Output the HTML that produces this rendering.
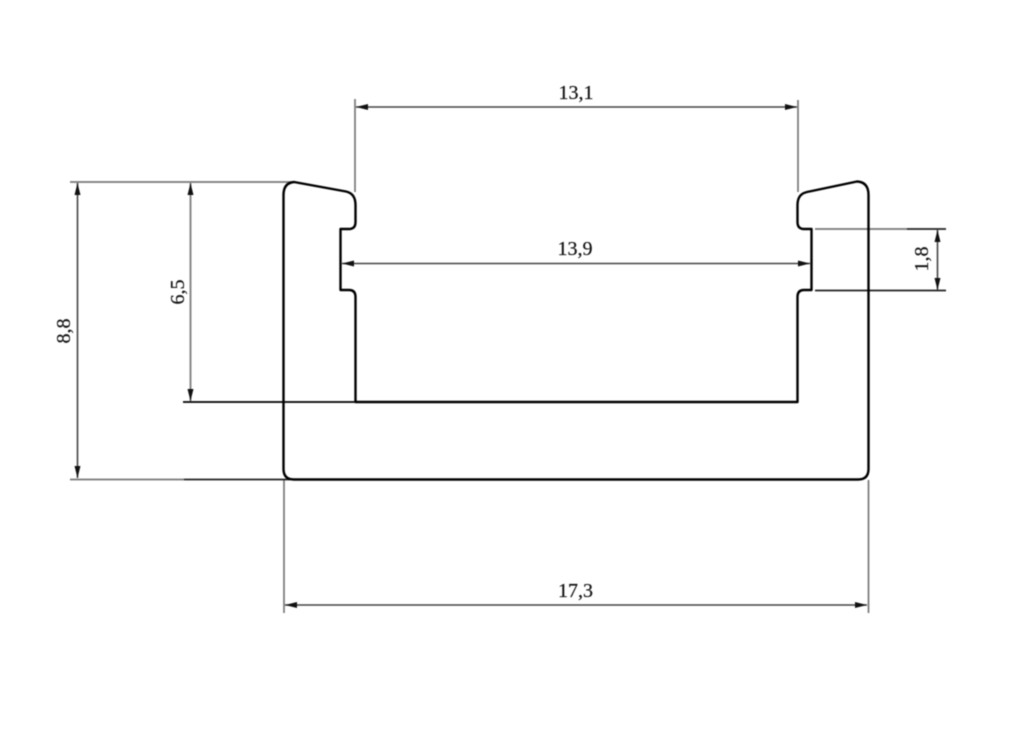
<!DOCTYPE html>
<html>
<head>
<meta charset="utf-8">
<style>
html,body{margin:0;padding:0;background:#fff;width:1024px;height:750px;overflow:hidden}
svg{display:block;filter:blur(0.45px)}
text{font-family:"Liberation Serif",serif;font-size:20px;fill:#111;stroke:#111;stroke-width:0.2px;text-anchor:middle}
</style>
</head>
<body>
<svg width="1024" height="750" viewBox="0 0 1024 750" xmlns="http://www.w3.org/2000/svg">
<rect width="1024" height="750" fill="#fff"/>
<defs>
<g id="ah"><polygon points="0,0 12,-3 12,3" fill="#111"/></g>
</defs>
<!-- extension lines -->
<g stroke="#777" stroke-width="1.7" fill="none">
<path d="M355 99V192"/>
<path d="M798 100V192"/>
<path d="M70 182H292"/>
<path d="M70 479.5H184"/>
<path d="M284 480V613"/>
<path d="M868.5 480V613"/>
<path d="M815 229H907"/>
</g>
<g stroke="#222" stroke-width="1.7" fill="none">
<path d="M184 479.5H290"/>
<path d="M907 229H946"/>
<path d="M815 290.5H946"/>
</g>
<path d="M183 402H355" stroke="#000" stroke-width="1.7" fill="none"/>
<!-- dimension lines -->
<g stroke="#444" stroke-width="1.6" fill="none">
<path d="M356 107H797"/>
<path d="M342 263.5H810"/>
<path d="M285 605H867"/>
<path d="M77.5 183V478"/>
<path d="M937.5 230V290"/>
</g>
<path d="M190.5 183V401" stroke="#888" stroke-width="2" fill="none"/>
<!-- arrowheads -->
<use href="#ah" transform="translate(356,107)"/>
<use href="#ah" transform="translate(797,107) rotate(180)"/>
<use href="#ah" transform="translate(342,263.5)"/>
<use href="#ah" transform="translate(810,263.5) rotate(180)"/>
<use href="#ah" transform="translate(285,605)"/>
<use href="#ah" transform="translate(867,605) rotate(180)"/>
<use href="#ah" transform="translate(77.5,183) rotate(90)"/>
<use href="#ah" transform="translate(77.5,478) rotate(-90)"/>
<use href="#ah" transform="translate(190.5,183) rotate(90)"/>
<use href="#ah" transform="translate(190.5,401) rotate(-90)"/>
<use href="#ah" transform="translate(937.5,230) rotate(90)"/>
<use href="#ah" transform="translate(937.5,290) rotate(-90)"/>
<!-- profile -->
<path d="M283.5 195 Q283.5 183 294 182 L346 191.5 Q355.5 193.5 355.5 205 V222 Q355.5 229 349 229 H340.5 V290 H349 Q355.5 290 355.5 297 V402 H797.5 V297 Q797.5 290 804 290 H811.5 V229 H804 Q797.5 229 797.5 222 V205 Q797.5 194 807 192 L857 181.5 Q868.5 182 868.5 195 V469 Q868.5 479.5 858 479.5 H294 Q283.5 479.5 283.5 469 Z" fill="none" stroke="#000" stroke-width="2.4" stroke-linejoin="round"/>
<!-- labels -->
<text x="576" y="99">13,1</text>
<text x="575" y="255">13,9</text>
<text x="575.5" y="597">17,3</text>
<text transform="translate(70,331) rotate(-90)">8,8</text>
<text transform="translate(184,292) rotate(-90)">6,5</text>
<text transform="translate(928,259) rotate(-90)">1,8</text>
</svg>
</body>
</html>
